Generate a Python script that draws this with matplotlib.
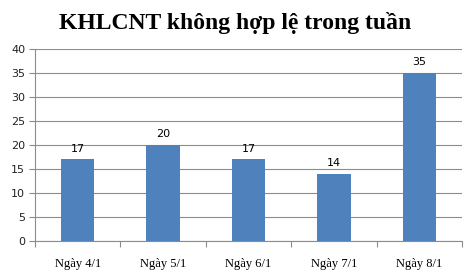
import matplotlib
matplotlib.use("Agg")
import matplotlib.pyplot as plt

categories = ["Ngày 4/1", "Ngày 5/1", "Ngày 6/1", "Ngày 7/1", "Ngày 8/1"]
values = [17, 20, 17, 14, 35]
yticks = [0, 5, 10, 15, 20, 25, 30, 35, 40]

fig = plt.figure(figsize=(4.71, 2.8), dpi=100)
ax = fig.add_axes([0.0743, 0.139, 0.9067, 0.686])
x = list(range(len(categories)))
ax.bar(x, values, width=0.39, color="#4F81BD", zorder=3)
ax.set_xlim(-0.5, len(categories) - 0.5)
ax.set_ylim(0, 40)
ax.set_yticks(yticks)
ax.set_yticklabels([str(t) for t in yticks], fontsize=8, family="DejaVu Sans", color="#222222")
ax.yaxis.grid(True, color="#8c8c8c", linewidth=0.8, zorder=0)
ax.set_axisbelow(True)
for s in ["top", "right"]:
    ax.spines[s].set_visible(False)
ax.spines["left"].set_color("#8c8c8c")
ax.spines["bottom"].set_color("#8c8c8c")
ax.tick_params(axis="y", length=4, color="#8c8c8c", pad=3)
ax.set_xticks([i - 0.5 for i in range(len(categories) + 1)], minor=False)
ax.set_xticklabels([])
ax.set_xticks(x, minor=True)
ax.set_xticklabels(categories, minor=True, fontsize=9, family="Liberation Serif")
ax.tick_params(axis="x", which="major", length=4, color="#8c8c8c")
ax.tick_params(axis="x", which="minor", length=0, pad=12)
for xi, v in zip(x, values):
    ax.annotate(str(v), (xi, v), xytext=(0, 4), textcoords="offset points",
                ha="center", va="bottom", fontsize=8, family="DejaVu Sans")
fig.text(0.5, 0.918, "KHLCNT không hợp lệ trong tuần", ha="center", va="center",
         fontsize=17, fontweight="bold", family="Liberation Serif")
fig.savefig("out.png", dpi=100)
